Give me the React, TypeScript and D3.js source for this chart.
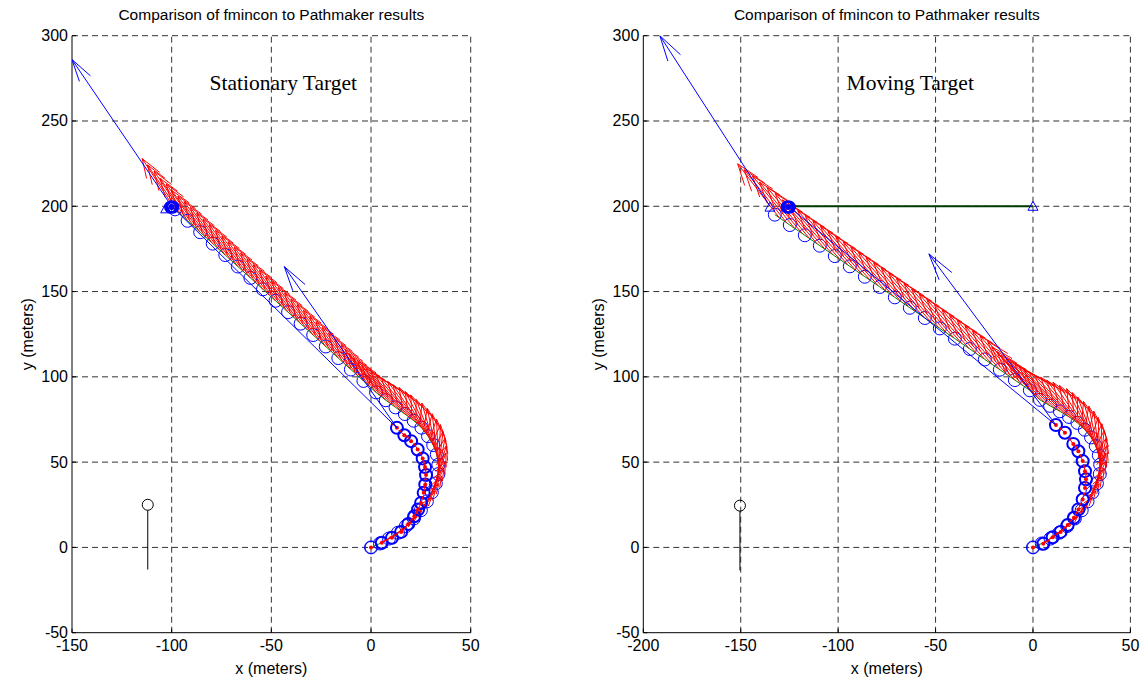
import React from "react";
import * as d3 from "d3";

// ---------- tick labels ----------
const X_TICKS_L = [-150, -100, -50, 0, 50];
const X_TICKS_R = [-200, -150, -100, -50, 0, 50];
const Y_TICKS = [-50, 0, 50, 100, 150, 200, 250, 300];
const TITLE = "Comparison of fmincon to Pathmaker results";

// ---------- Stationary target (left) ----------
// Pathmaker positions (thin circles, green line)
const PM_L_X = [0, 4.5, 9, 13.5, 17.5, 21.5, 25, 28, 30.5, 32.5, 33.8, 33.8, 33, 31.2, 28.6, 25.3, 21.4, 17, 12.3, 7.4, 2.5, -3.8, -10.1, -16.4, -22.7, -29, -35.3, -41.6, -47.9, -54.2, -60.5, -66.8, -73.1, -79.4, -85.7, -92, -98.3];
const PM_L_Y = [0, 2.3, 5.2, 8.6, 12.5, 17, 21.8, 27, 32.3, 37.5, 43, 48.5, 54.5, 60, 65.2, 70.2, 74.3, 78.2, 82.1, 86.3, 90.9, 97.6, 104.3, 111, 117.8, 124.5, 131.2, 137.9, 144.6, 151.3, 158, 164.7, 171.4, 178.1, 184.8, 191.5, 198.2];
// Pathmaker heading arrows (red quiver): base x, base y, angle (deg), length (m)
const ARW_L_X = [0, 2.2, 4.5, 6.7, 9, 11.2, 13.5, 15.5, 17.5, 19.5, 21.5, 23.3, 25, 26.6, 28, 29.3, 30.5, 31.6, 32.5, 33.2, 33.8, 33.9, 33.8, 33.5, 33, 32.2, 31.2, 30, 28.6, 27, 25.3, 23.4, 21.4, 19.2, 17, 14.7, 12.3, 9.9, 7.4, 5,
  2.5, -0.65, -3.8, -6.95, -10.1, -13.25, -16.4, -19.55, -22.7, -25.85, -29.0, -32.15, -35.3, -38.45, -41.6, -44.75, -47.9, -51.05, -54.2, -57.35, -60.5, -63.65, -66.8, -69.95, -73.1, -76.25, -79.4, -82.55, -85.7, -88.85, -92.0, -95.15, -98.3];
const ARW_L_Y = [0, 1.1, 2.3, 3.7, 5.2, 6.8, 8.6, 10.5, 12.5, 14.7, 17, 19.3, 21.8, 24.4, 27, 29.6, 32.3, 34.9, 37.5, 40.2, 43, 45.7, 48.5, 51.5, 54.5, 57.3, 60, 62.6, 65.2, 67.7, 70.2, 72.3, 74.3, 76.3, 78.2, 80.2, 82.1, 84.2, 86.3, 88.6,
  90.9, 94.25, 97.6, 100.95, 104.3, 107.65, 111.0, 114.4, 117.7, 121.1, 124.4, 127.8, 131.1, 134.5, 137.8, 141.2, 144.5, 147.9, 151.2, 154.6, 157.9, 161.3, 164.6, 168.0, 171.3, 174.7, 178.0, 181.4, 184.7, 188.1, 191.5, 194.8, 198.2];
const ARW_L_ANG = [30, 31, 33, 35, 37, 39, 42, 45, 48, 51, 54, 57, 60, 63, 66, 69, 73, 76, 80, 84, 88, 92, 96, 100, 104, 108, 111, 114, 117, 120, 122, 124, 125, 126, 126, 126, 125, 125, 124, 123,
  122, 122, 122, 122, 122, 122, 122, 122, 122, 122, 122, 122, 122, 122, 122, 122, 122, 122, 122, 122, 122, 122, 122, 122, 122, 122, 122, 122, 121, 121, 120, 120, 119];
const ARW_L_LEN = [0, 1.5, 3, 4.5, 6, 7.5, 9, 10.5, 12, 13.5, 15, 16.5, 18, 19.5, 21, 22.5, 24, 25.5, 27, 28, 29, 29.5, 30, 30.5, 31, 31, 31.5, 31.5, 32, 32, 32, 32.5, 32.5, 32.5, 33, 33, 33, 33, 33, 33,
  33, 33, 33, 33, 33, 33, 33, 33, 33, 33, 33, 33, 33, 33, 33, 33, 33, 33, 33, 33, 33, 33, 33, 33, 33, 33, 33, 33, 33, 33, 33.5, 34, 34];
// fmincon positions (thick circles)
const FM_L_X = [0, 5.4, 10.5, 15.1, 18.7, 21.7, 23.6, 25.1, 26.4, 27.2, 27.6, 27.1, 25.9, 23.4, 20.1, 16.7, 13.0];
const FM_L_Y = [0, 2.7, 5.6, 9.1, 13.8, 18.3, 22.2, 26.1, 32.0, 36.9, 42.4, 47.1, 52.2, 57.4, 62.3, 65.8, 70.1];
const FM_L_ANG = [30, 33, 40, 48, 56, 63, 70, 76, 82, 88, 95, 102, 110, 118, 126, 132, 135];
const TARGET_L = { x: -100, y: 199.5 };
const TRI_L = [{ x: -103, y: 198.5 }];
const BLUE_ARROWS_L = [
  { x: -100, y: 200, u: -50, v: 86 },
  { x: 13, y: 70.1, u: -56.5, v: 94.5 },
];
const BLUE_LINE_L = [{ x: 13, y: 70.1 }, { x: -100, y: 200 }];
const STICK_L = { x: -112, y: 25, y2: -13 };

// ---------- Moving target (right) ----------
const PM_R_X = [0, 4.5, 9, 13.5, 17.5, 21.5, 25, 28, 30.5, 32.8, 34.3, 34.5, 33.8, 32.2, 29.8, 26.6, 22.8, 18.5, 13.8, 8.8, 3.6, -1.6, -9.3, -17, -24.7, -32.4, -40.1, -47.8, -55.5, -63.2, -70.9, -78.6, -86.3, -94, -101.7, -109.4, -117.1, -124.8, -132.5];
const PM_R_Y = [0, 2.3, 5.2, 8.6, 12.5, 17, 21.8, 27, 32.3, 37.5, 43, 48.5, 54, 59.5, 64.5, 69, 73, 76.5, 79.8, 83, 86.5, 92.1, 98.1, 104.2, 110.2, 116.3, 122.4, 128.4, 134.5, 140.5, 146.6, 152.7, 158.7, 164.8, 170.8, 176.9, 183, 189, 195.1];
const ARW_R_X = [0, 2.2, 4.5, 6.7, 9, 11.2, 13.5, 15.5, 17.5, 19.5, 21.5, 23.3, 25, 26.6, 28, 29.3, 30.5, 31.7, 32.8, 33.6, 34.3, 34.5, 34.5, 34.2, 33.8, 33.1, 32.2, 31.1, 29.8, 28.3, 26.6, 24.8, 22.8, 20.7, 18.5, 16.2, 13.8, 11.3, 8.8, 6.2, 3.6, 1,
  -1.6, -5.5, -9.4, -13.3, -17.2, -21.1, -25.0, -28.9, -32.8, -36.7, -40.6, -44.5, -48.4, -52.3, -56.2, -60.1, -64.0, -67.9, -71.8, -75.7, -79.6, -83.5, -87.4, -91.3, -95.2, -99.1, -103.0, -106.9, -110.8, -114.7, -118.6, -122.5, -126.4, -130.3];
const ARW_R_Y = [0, 1.1, 2.3, 3.7, 5.2, 6.8, 8.6, 10.5, 12.5, 14.7, 17, 19.3, 21.8, 24.4, 27, 29.6, 32.3, 34.9, 37.5, 40.2, 43, 45.7, 48.5, 51.3, 54, 56.8, 59.5, 62, 64.5, 66.8, 69, 71.1, 73, 74.8, 76.5, 78.2, 79.8, 81.4, 83, 84.7, 86.5, 89.3,
  92.1, 95.2, 98.2, 101.3, 104.4, 107.4, 110.5, 113.6, 116.6, 119.7, 122.8, 125.9, 128.9, 132.0, 135.1, 138.1, 141.2, 144.3, 147.3, 150.4, 153.5, 156.5, 159.6, 162.7, 165.8, 168.8, 171.9, 175.0, 178.0, 181.1, 184.2, 187.2, 190.3, 193.4];
const ARW_R_ANG = [30, 31, 33, 35, 37, 39, 42, 45, 48, 51, 54, 57, 60, 63, 66, 69, 73, 76, 80, 84, 88, 92, 96, 100, 104, 108, 111, 114, 118, 121, 124, 126, 128, 129, 130, 130, 130, 130, 129, 129, 128, 128,
  127, 127, 127, 127, 127, 127, 127, 127, 127, 127, 127, 127, 127, 127, 127, 127, 127, 127, 127, 127, 127, 127, 127, 127, 127, 127, 127, 127, 126, 126, 126, 125, 125, 124];
const ARW_R_LEN = [0, 1.5, 3, 4.5, 6, 7.5, 9, 10.5, 12, 13.5, 15, 16.5, 18, 19.5, 21, 22.5, 24, 25.5, 27, 28.5, 29.5, 30.5, 31.5, 32, 32.5, 33, 33.5, 34, 34.5, 35, 35, 35.5, 35.5, 36, 36, 36, 36, 36, 36, 36, 36, 36,
  36, 36, 36, 36, 36, 36, 36, 36, 36, 36, 36, 36, 36, 36, 36, 36, 36, 36, 36, 36, 36, 36, 36, 36, 36, 36, 36, 36, 36.5, 37, 37, 37.5, 38, 38];
const FM_R_X = [0, 5.3, 10.1, 14.2, 17.8, 21, 23.3, 25.5, 26.7, 27.2, 26.7, 25.5, 23.3, 20.7, 16.4, 11.8];
const FM_R_Y = [0, 2.1, 6, 9.1, 13.1, 17.4, 22.3, 28.1, 34.9, 39.9, 44.7, 50.6, 56.4, 60.7, 67.2, 71.7];
const FM_R_ANG = [30, 35, 42, 50, 58, 65, 72, 78, 85, 92, 100, 108, 116, 124, 132, 138];
const TARGET_R = { x: -125.6, y: 199.5 };
const TRI_R = [{ x: -135, y: 199.5 }, { x: 0, y: 200 }];
const TARGET_PATH_R = [{ x: -125.6, y: 200 }, { x: 0, y: 200 }];
const BLUE_ARROWS_R = [
  { x: -135, y: 200, u: -56.5, v: 100 },
  { x: 11.8, y: 71.7, u: -65.2, v: 100.4 },
];
const BLUE_LINE_R = [{ x: 11.8, y: 71.7 }, { x: -125.6, y: 200 }];
const STICK_R = { x: -150.4, y: 24.5, y2: -13.5 };

const BLUE = "#0000ff";
const RED = "#ff0000";
const GREEN = "#008000";
const SANS = "'Liberation Sans', Arial, Helvetica, sans-serif";
const SERIF = "'Liberation Serif', 'Times New Roman', serif";

type Pt = { x: number; y: number };

function quiver(sx: any, sy: any, x: number, y: number, u: number, v: number, alpha: number, beta: number) {
  const tx = x + u, ty = y + v;
  const h1x = tx - alpha * (u + beta * v), h1y = ty - alpha * (v - beta * u);
  const h2x = tx - alpha * (u - beta * v), h2y = ty - alpha * (v + beta * u);
  return `M${sx(x)},${sy(y)}L${sx(tx)},${sy(ty)}M${sx(h1x)},${sy(h1y)}L${sx(tx)},${sy(ty)}L${sx(h2x)},${sy(h2y)}`;
}

function Panel(props: any) {
  const { id, xTicks, xRange, pmX, pmY, aX, aY, aAng, aLen, fmX, fmY, fmAng, target, tris, blueArrows, blueLine, stick, targetPath, label, labelX } = props;
  const yRange = [632.7, 35.7];
  const sx = d3.scaleLinear().domain([xTicks[0], xTicks[xTicks.length - 1]]).range(xRange);
  const sy = d3.scaleLinear().domain([-50, 300]).range(yRange);
  const x0 = xRange[0], x1 = xRange[1], yb = yRange[0], yt = yRange[1];
  const dash = "6,4";
  const line = d3.line<Pt>().x((d) => sx(d.x)).y((d) => sy(d.y));
  const pm: Pt[] = pmX.map((x: number, i: number) => ({ x, y: pmY[i] }));
  const rad = (a: number) => (a * Math.PI) / 180;
  const cx = (x0 + x1) / 2, cy = (yb + yt) / 2;
  const triPath = (p: Pt) => {
    const px = sx(p.x), py = sy(p.y), s = 5;
    return `M${px},${py - s}L${px + s},${py + s * 0.8}L${px - s},${py + s * 0.8}Z`;
  };
  const redD = aX
    .map((x: number, i: number) => (aLen[i] > 0 ? quiver(sx, sy, x, aY[i], aLen[i] * Math.cos(rad(aAng[i])), aLen[i] * Math.sin(rad(aAng[i])), 0.33, 0.33) : ""))
    .join("");
  return (
    <g>
      <defs>
        <clipPath id={id}>
          <rect x={x0} y={yt} width={x1 - x0} height={yb - yt} />
        </clipPath>
      </defs>
      {xTicks.slice(1).map((t: number) => (
        <line key={"gx" + t} x1={sx(t)} x2={sx(t)} y1={yb} y2={yt} stroke="#333" strokeWidth={1} strokeDasharray={dash} />
      ))}
      {Y_TICKS.slice(1).map((t: number) => (
        <line key={"gy" + t} x1={x0} x2={x1} y1={sy(t)} y2={sy(t)} stroke="#333" strokeWidth={1} strokeDasharray={dash} />
      ))}
      <line x1={x0} x2={x1} y1={yb} y2={yb} stroke="#000" strokeWidth={1} />
      <line x1={x0} x2={x0} y1={yb} y2={yt} stroke="#000" strokeWidth={1} />
      {xTicks.map((t: number) => (
        <g key={"tx" + t}>
          <line x1={sx(t)} x2={sx(t)} y1={yb} y2={yb - 4} stroke="#000" />
          <text x={sx(t)} y={yb + 18} textAnchor="middle" fontFamily={SANS} fontSize={16}>{t}</text>
        </g>
      ))}
      {Y_TICKS.map((t: number) => (
        <g key={"ty" + t}>
          <line x1={x0} x2={x0 + 4} y1={sy(t)} y2={sy(t)} stroke="#000" />
          <text x={x0 - 4} y={sy(t) + 5.5} textAnchor="end" fontFamily={SANS} fontSize={16}>{t}</text>
        </g>
      ))}
      <text x={cx} y={20} textAnchor="middle" fontFamily={SANS} fontSize={15.5}>{TITLE}</text>
      <text x={cx} y={674} textAnchor="middle" fontFamily={SANS} fontSize={16}>x (meters)</text>
      <text transform={`translate(${x0 - 39},${cy}) rotate(-90)`} textAnchor="middle" fontFamily={SANS} fontSize={16}>y (meters)</text>
      <text x={sx(labelX)} y={sy(268)} textAnchor="middle" fontFamily={SERIF} fontSize={21.5}>{label}</text>

      <g clipPath={`url(#${id})`}>
        {pm.map((p, i) => (
          <circle key={"pc" + i} cx={sx(p.x)} cy={sy(p.y)} r={6.5} fill="none" stroke={BLUE} strokeWidth={1} />
        ))}
        <path d={line(pm) || ""} fill="none" stroke={GREEN} strokeWidth={1} />
        <path d={redD} fill="none" stroke={RED} strokeWidth={1} />
        {fmX.map((x: number, i: number) => (
          <circle key={"fc" + i} cx={sx(x)} cy={sy(fmY[i])} r={6} fill="none" stroke={BLUE} strokeWidth={i === 0 ? 1 : 2} />
        ))}
        {fmX.map((x: number, i: number) =>
          i > 0 ? (
            <path key={"fa" + i} d={quiver(sx, sy, x, fmY[i], 4 * Math.cos(rad(fmAng[i])), 4 * Math.sin(rad(fmAng[i])), 0.33, 0.33)} fill="none" stroke={RED} strokeWidth={1} />
          ) : null
        )}
        {fmX.map((x: number, i: number) => (
          <circle key={"fd" + i} cx={sx(x)} cy={sy(fmY[i])} r={2} fill={RED} />
        ))}
        {targetPath ? <path d={line(targetPath) || ""} fill="none" stroke="#003a00" strokeWidth={2} /> : null}
        {[-0.6, 0, 0.6].map((o, k) => (
          <circle key={"tb" + k} cx={sx(target.x + o)} cy={sy(target.y)} r={5.5} fill="none" stroke={BLUE} strokeWidth={2} />
        ))}
        <circle cx={sx(target.x)} cy={sy(target.y)} r={3} fill={BLUE} />
        {tris.map((p: Pt, i: number) => (
          <path key={"tr" + i} d={triPath(p)} fill="none" stroke={BLUE} strokeWidth={1} />
        ))}
        <path d={line(blueLine) || ""} fill="none" stroke={BLUE} strokeWidth={1} />
        {blueArrows.map((a: any, i: number) => (
          <path key={"ba" + i} d={quiver(sx, sy, a.x, a.y, a.u, a.v, 0.13, 0.25)} fill="none" stroke={BLUE} strokeWidth={1} />
        ))}
        <circle cx={sx(stick.x)} cy={sy(stick.y)} r={5.5} fill="none" stroke="#000" strokeWidth={1} />
        <line x1={sx(stick.x)} x2={sx(stick.x)} y1={sy(stick.y) + 5.5} y2={sy(stick.y2)} stroke="#000" strokeWidth={1} />
      </g>
    </g>
  );
}

export default function App() {
  return (
    <svg width={1148} height={685} style={{ position: "absolute", left: 0, top: 0, background: "#fff" }}>
      <rect x={0} y={0} width={1148} height={685} fill="#fff" />
      <Panel id="clipL" xTicks={X_TICKS_L} xRange={[72, 470.7]} pmX={PM_L_X} pmY={PM_L_Y} aX={ARW_L_X} aY={ARW_L_Y} aAng={ARW_L_ANG} aLen={ARW_L_LEN}
        fmX={FM_L_X} fmY={FM_L_Y} fmAng={FM_L_ANG} target={TARGET_L} tris={TRI_L} blueArrows={BLUE_ARROWS_L}
        blueLine={BLUE_LINE_L} stick={STICK_L} targetPath={null} label="Stationary Target" labelX={-44} />
      <Panel id="clipR" xTicks={X_TICKS_R} xRange={[643.3, 1130.4]} pmX={PM_R_X} pmY={PM_R_Y} aX={ARW_R_X} aY={ARW_R_Y} aAng={ARW_R_ANG} aLen={ARW_R_LEN}
        fmX={FM_R_X} fmY={FM_R_Y} fmAng={FM_R_ANG} target={TARGET_R} tris={TRI_R} blueArrows={BLUE_ARROWS_R}
        blueLine={BLUE_LINE_R} stick={STICK_R} targetPath={TARGET_PATH_R} label="Moving Target" labelX={-63} />
    </svg>
  );
}
